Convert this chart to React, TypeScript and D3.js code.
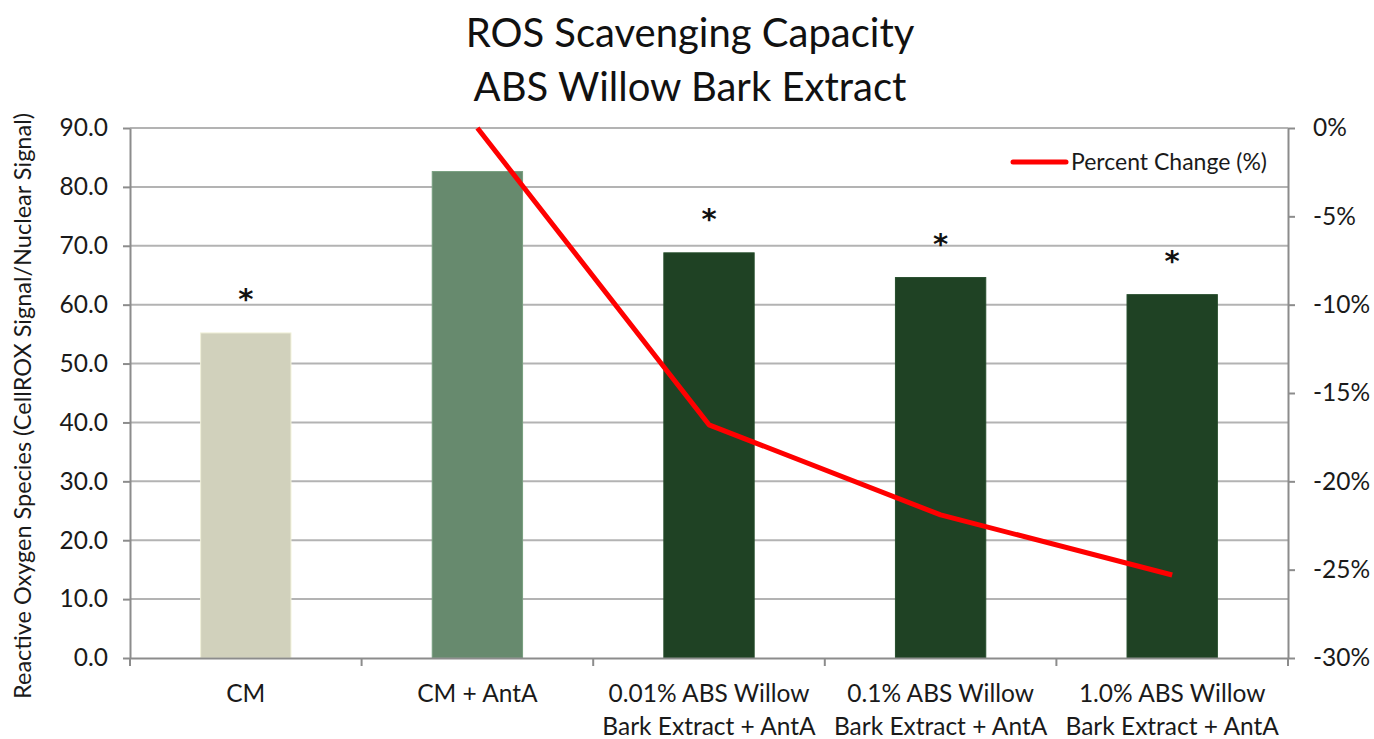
import { useEffect, useRef } from "react";
import * as d3 from "d3";

// chart data
const categories = [
  ["CM"],
  ["CM + AntA"],
  ["0.01% ABS Willow", "Bark Extract + AntA"],
  ["0.1% ABS Willow", "Bark Extract + AntA"],
  ["1.0% ABS Willow", "Bark Extract + AntA"],
];
const rosValues = [55.2, 82.6, 68.8, 64.6, 61.7];
const barColors = ["#d1d1bc", "#678a6e", "#1f4224", "#1f4224", "#1f4224"];
const significant = [true, false, true, true, true];
// percent change vs CM + AntA (line starts at CM + AntA)
const pctChange = [null, 0, -16.8, -21.9, -25.3];
const leftTicks = [0, 10, 20, 30, 40, 50, 60, 70, 80, 90];
const rightTicks = [0, -5, -10, -15, -20, -25, -30];

const width = 1374;
const height = 739;
const marginTop = 128;
const marginBottom = 81;
const marginLeft = 130;
const marginRight = 86;
const font = "Lato, 'Open Sans', sans-serif";
const labelSize = 24.5;

const App = () => {
  const axesRef = useRef<SVGGElement>(null);

  const chartBottomY = height - marginBottom;

  const xScale = d3
    .scaleBand()
    .domain(categories.map((_, i) => String(i)))
    .range([marginLeft, width - marginRight])
    .padding(0);
  const barWidth = xScale.bandwidth() * 0.39;

  const yScale = d3.scaleLinear().domain([0, 90]).range([chartBottomY, marginTop]);
  const y2Scale = d3.scaleLinear().domain([-30, 0]).range([chartBottomY, marginTop]);

  const cx = (i: number) => (xScale(String(i)) as number) + xScale.bandwidth() / 2;

  const line = d3
    .line<number | null>()
    .defined((d) => d !== null)
    .x((_, i) => cx(i))
    .y((d) => y2Scale(d as number));

  useEffect(() => {
    const g = d3.select(axesRef.current);
    g.selectAll("*").remove();

    const left = g
      .append("g")
      .attr("transform", `translate(${marginLeft},0)`)
      .call(
        d3
          .axisLeft(yScale)
          .tickValues(leftTicks)
          .tickFormat((d) => d3.format(".1f")(d as number))
          .tickSize(7)
          .tickSizeOuter(0)
          .tickPadding(15)
      );
    const right = g
      .append("g")
      .attr("transform", `translate(${width - marginRight},0)`)
      .call(
        d3
          .axisRight(y2Scale)
          .tickValues(rightTicks)
          .tickFormat((d) => `${d}%`)
          .tickSize(7)
          .tickSizeOuter(0)
          .tickPadding(18)
      );
    const bottom = g
      .append("g")
      .attr("transform", `translate(0,${chartBottomY})`)
      .call(d3.axisBottom(xScale).tickValues([]).tickSizeOuter(0));
    // category boundary ticks
    const boundaries = categories
      .map((_, i) => xScale(String(i)) as number)
      .concat([width - marginRight]);
    bottom
      .selectAll(".bt")
      .data(boundaries)
      .join("line")
      .attr("x1", (d) => d)
      .attr("x2", (d) => d)
      .attr("y1", 0)
      .attr("y2", 8)
      .attr("stroke", "#8c8c8c")
      .attr("stroke-width", 2);

    [left, right, bottom].forEach((a) => {
      a.selectAll(".domain").attr("stroke", "#8c8c8c").attr("stroke-width", 2);
      a.selectAll(".tick line").attr("stroke", "#8c8c8c").attr("stroke-width", 2);
      a.selectAll("text")
        .attr("font-family", font)
        .attr("font-size", labelSize)
        .attr("fill", "#1a1a1a");
    });
  }, []);

  return (
    <svg
      width={width}
      height={height}
      style={{ display: "block", position: "absolute", left: 0, top: 0, background: "#fff" }}
    >
      <rect width={width} height={height} fill="#fff" />
      {/* title */}
      <text x={690} y={47} textAnchor="middle" fontFamily={font} fontSize={40} fill="#111">
        ROS Scavenging Capacity
      </text>
      <text x={690} y={101} textAnchor="middle" fontFamily={font} fontSize={40} fill="#111">
        ABS Willow Bark Extract
      </text>

      {/* gridlines */}
      <g className="grid">
        {leftTicks.slice(1).map((t) => (
          <line
            key={t}
            x1={marginLeft}
            x2={width - marginRight}
            y1={yScale(t)}
            y2={yScale(t)}
            stroke="#b3b3b3"
            strokeWidth={2}
          />
        ))}
      </g>

      {/* bars */}
      <g className="bars">
        {rosValues.map((v, i) => (
          <rect
            key={i}
            x={cx(i) - barWidth / 2}
            y={yScale(v)}
            width={barWidth}
            height={chartBottomY - yScale(v)}
            fill={barColors[i]}
            stroke={d3.color(barColors[i])!.brighter(0.4).toString()}
            strokeWidth={1}
          />
        ))}
      </g>

      {/* significance markers */}
      <g className="stars">
        {rosValues.map((v, i) =>
          significant[i] ? (
            <text
              key={i}
              x={cx(i)}
              y={yScale(v) - 24}
              textAnchor="middle"
              fontFamily="'DejaVu Sans', sans-serif"
              fontWeight="bold"
              fontSize={29}
              fill="#111"
            >
              *
            </text>
          ) : null
        )}
      </g>

      <g ref={axesRef} />

      {/* x labels */}
      <g className="x-labels">
        {categories.map((lines, i) =>
          lines.map((l, j) => (
            <text
              key={`${i}-${j}`}
              x={cx(i)}
              y={702 + j * 33}
              textAnchor="middle"
              fontFamily={font}
              fontSize={labelSize}
              fill="#1a1a1a"
            >
              {l}
            </text>
          ))
        )}
      </g>

      {/* percent change line */}
      <path
        d={line(pctChange) || ""}
        fill="none"
        stroke="#ff0000"
        strokeWidth={5}
        strokeLinejoin="round"
      />

      {/* legend */}
      <g className="legend">
        <line x1={1013} x2={1066} y1={162} y2={162} stroke="#ff0000" strokeWidth={5} strokeLinecap="round" />
        <text x={1071} y={170} fontFamily={font} fontSize={23} fill="#1a1a1a">
          Percent Change (%)
        </text>
      </g>

      {/* y label */}
      <text
        transform={`translate(31,406) rotate(-90)`}
        textAnchor="middle"
        fontFamily={font}
        fontSize={23.5}
        fill="#1a1a1a"
      >
        Reactive Oxygen Species (CellROX Signal/Nuclear Signal)
      </text>
    </svg>
  );
};

export default App;
